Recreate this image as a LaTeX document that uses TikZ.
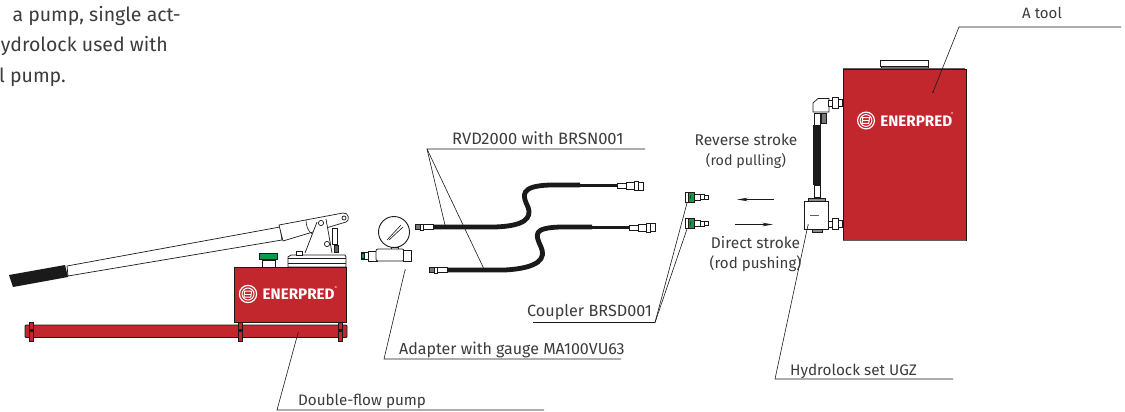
\documentclass[tikz,border=0pt]{standalone}
\usepackage{fontspec}
\setmainfont{Fira Sans}
\usetikzlibrary{arrows.meta}
\definecolor{ered}{HTML}{C1272D}
\definecolor{egreen}{HTML}{0A9A4A}
\definecolor{ink}{HTML}{1A1A1A}
\newcommand{\fs}[1]{\fontsize{#1}{20}\selectfont}
\newcommand{\logo}[3]{%
 \begin{scope}[shift={(#1,#2)},scale=#3]
  \draw[white,line width=1.2pt] (0,0) circle (8.6);
  \draw[white,line width=1pt] (0,0) circle (6);
  \draw[white,line width=1pt] (-3.4,-3) -- (3.6,-3) -- (2.8,3) -- (-4,3) -- cycle;
  \draw[white,line width=.8pt] (-3,0) -- (3,0);
  \node[white,font=\bfseries\fs{15.2},anchor=west,inner sep=0] at (14.5,.3) {ENERPRED};
  \node[white,font=\fs{4},inner sep=0] at (88,-6.5) {®};
 \end{scope}}
\tikzset{
 lbl/.style={text=ink!85,inner sep=0,anchor=base west},
 leader/.style={draw=ink,line width=.6pt},
 part/.style={draw=ink,line width=.7pt,fill=white},
 redp/.style={draw=ink,line width=.8pt,fill=ered},
 hose/.style={draw=ink,line cap=butt},
 gpart/.style={draw=ink,line width=.5pt,fill=egreen},
 dot/.style={fill=ink,circle,inner sep=0,minimum size=2.5pt},
 strokearrow/.style={draw=ink,line width=.6pt,-{Stealth[length=11pt,width=3.5pt]}}
}
\newcommand{\fitR}[2]{% right-facing hose fitting at (#1,#2)
 \begin{scope}[shift={(#1,#2)}]
  \draw[part] (0,-2.5) rectangle (9,2.5);
  \draw[part] (9,-3.5) rectangle (17,3.5);
  \draw[part,line width=.6pt] (17,-4.5) rectangle (21,4.5);
  \draw[part,line width=.6pt] (21,-4) rectangle (26,4);
 \end{scope}}
\newcommand{\fitL}[2]{% left-facing plug end at (#1,#2)
 \begin{scope}[shift={(#1,#2)}]
  \draw[part] (-10,-2.5) rectangle (0,2.5);
  \draw[part] (-13,-3) rectangle (-10,3);
  \draw[part,fill=ink!60] (-18,-2.2) rectangle (-13,2.2);
 \end{scope}}
\newcommand{\coupler}[2]{%
 \begin{scope}[shift={(#1,#2)}]
  \draw[part] (-5.5,-5) rectangle (-3,5);
  \draw[gpart] (-3,-5) rectangle (3.5,5);
  \draw[ink,line width=.5pt] (-1,2) -- (0,-2);
  \draw[part] (3.5,-3) rectangle (9,3);
  \draw[part] (9,-2.5) rectangle (13,2.5);
  \draw[part] (13,-2) rectangle (17.5,2);
 \end{scope}}
\begin{document}
\begin{tikzpicture}[x=1pt,y=-1pt]
\useasboundingbox (0,0) rectangle (1125,412);
\fill[white] (0,0) rectangle (1125,412);

% top-left paragraph: the part the reference shows
\node[lbl,font=\fs{19.5},anchor=base east] (p1) at (181,22) {a pump, single act-};
\node[lbl,font=\fs{19.5},anchor=base east] (p2) at (168,52) {ydrolock used with};
\node[lbl,font=\fs{19.5},anchor=base east] (p3) at (66,83) {l pump.};

% pump: handle
\draw[part] (67,266) -- (280,227) -- (282,240) -- (68,276) -- cycle;
\fill[ink] (9,275) -- (65,265) -- (68,277) -- (13,287) -- cycle;
% pump: lever sleeve
\draw[part] (279,225) -- (343,213) .. controls (349,212) and (350,221) .. (346,222) -- (283,241) -- cycle;
\draw[ink,line width=.6pt] (306,220) .. controls (306,226) and (308,231) .. (312,234);
% pump: lever yoke
\fill[white] (317,222) -- (326,220) -- (332,253) -- (305,253) -- cycle;
\draw[ink,line width=.7pt] (305,253) -- (317,222);
\draw[ink,line width=.7pt] (326,219) -- (332,253);
\draw[part] (321,223) circle (2.6);
\draw[part] (344,218) circle (2);
\draw[part] (327,244) circle (2.6);
\draw[part] (332,228) rectangle (337,244);
\draw[part,fill=ink!70] (334,245) rectangle (338,252);
% pump: cap + filler
\draw[part] (288,267) -- (288,257) -- (291,255) -- (345,255) -- (346,257) -- (346,267) -- cycle;
\draw[ink,line width=.5pt] (288,258) -- (346,258);
\draw[ink,line width=.5pt] (288,263) -- (346,263);
\draw[part] (296,251) rectangle (302,255);
\draw[part] (262,260) rectangle (275,267);
\draw[gpart] (259,253) rectangle (277,259.5);
% pump: tank + base
\draw[redp] (234.5,267) rectangle (346,322);
\draw[redp,rounded corners=1pt] (25,325) rectangle (347,337.5);
\foreach \bx in {31.5,240.5,340.5}{
 \draw[redp,line width=.6pt] (\bx-2,322) rectangle (\bx+2,341);
 \fill[ink] (\bx-2,329) rectangle (\bx+2,332);
}
\logo{248}{294}{1}

% gauge
\draw[part,line width=.9pt] (394,232) circle (15.5);
\draw[ink,line width=.6pt] (387,240) -- (401,225);
\draw[ink,line width=.6pt] (389,240) -- (403,227);
\draw[part] (391,247) rectangle (398,250);
\draw[part] (361,252) rectangle (368,259);
\draw[part,line width=.5pt] (368,251) rectangle (377,261.5);
\draw[part,rounded corners=2pt] (376,249) rectangle (404,261);
\draw[part] (403,250) rectangle (411,261);
\draw[gpart] (361,253) rectangle (364,258);

% hoses
\draw[hose,line width=4.8pt] (433,227) -- (495,227) .. controls (525,226) and (532,218) .. (528,207) .. controls (522,195) and (520,186) .. (550,185) -- (580,185);
\draw[hose,line width=3pt] (580,185) -- (617,185);
\fitL{433}{227}
\fitR{617}{186}
\draw[hose,line width=4.8pt] (447,270) -- (505,270) .. controls (540,268) and (546,258) .. (541,247) .. controls (535,234) and (533,228) .. (560,227) -- (592,227);
\draw[hose,line width=3pt] (592,227) -- (629,227);
\fitL{447}{270}
\fitR{629}{227.5}

% couplers
\coupler{691}{197}
\coupler{691}{223.5}

% stroke arrows
\draw[strokearrow] (774,199.5) -- (737,199.5);
\draw[strokearrow] (735,224.5) -- (773,224.5);

% tool
\draw[part] (880,60.5) rectangle (928,66.5);
\draw[part,fill=ink!60] (881,66.5) rectangle (928,68.5);
\draw[ink!70,line width=1pt] (843,69) -- (965,69);
\draw[redp,line width=1pt] (843,70) rectangle (966,240);
\draw[ink!70,line width=1pt] (843,240.6) -- (966,240.6);
\logo{866}{120.5}{.98}

% tubing tool - hydrolock
\draw[part] (814,113) rectangle (820,125);
\fill[ink] (813.3,125) rectangle (820.7,185);
\draw[part] (814,185) rectangle (820,197);
\draw[part] (813,112) -- (813,103) -- (818,98.5) -- (829,98.5) -- (829,112) -- cycle;
\draw[part,fill=ink!60] (821,113) rectangle (826,123);
\draw[part] (828.5,100) rectangle (832.5,106);
\draw[part] (832.5,97) rectangle (838,108);
\draw[part] (838,99.5) rectangle (842,106);
\draw[part] (828.5,221) rectangle (832.5,227);
\draw[part] (832.5,218.5) rectangle (838,229.5);
\draw[part] (838,220.5) rectangle (842,227.5);
\draw[part,fill=ink!50] (808,198.5) rectangle (825,201);
\draw[part,fill=ink!50] (812,229) rectangle (822,232);
\draw[part] (804,201) rectangle (828.5,229);
\draw[ink!70,line width=1pt] (810,215) -- (819,215);

% labels and leaders
\node[lbl,font=\fs{15}] (tTool) at (1022,19) {A tool};
\coordinate (tEnd) at (1121,27);
\coordinate (tKnee) at (959,27);
\node[dot,minimum size=2pt] (tAnchor) at (933,92) {};
\draw[leader] (tEnd) -- (tKnee) -- (tAnchor);

\node[lbl,font=\fs{16.5}] (tRvd) at (452,144) {RVD2000 with BRSN001};
\coordinate (rEnd) at (645,149);
\coordinate (rKnee) at (427,149);
\coordinate (rA) at (445,225);
\coordinate (rB) at (483.5,268);
\draw[leader] (rEnd) -- (rKnee) -- (rA);
\draw[leader] (rKnee) -- (rB);

\node[lbl,font=\fs{16.2}] (tCoup) at (527,316) {Coupler BRSD001};
\coordinate (cEnd) at (533,322.5);
\coordinate (cKnee) at (655,322.5);
\coordinate (cA) at (687,203);
\coordinate (cB) at (687,229);
\draw[leader] (cEnd) -- (cKnee) -- (cA);
\draw[leader] (cKnee) -- (cB);

\node[lbl,font=\fs{16}] (tAd) at (399,354) {Adapter with gauge MA100VU63};
\coordinate (aEnd) at (621,359);
\coordinate (aKnee) at (384,359);
\node[dot,minimum size=1.5pt] (aA) at (405,270) {};
\draw[leader] (aEnd) -- (aKnee) -- (aA);

\node[lbl,font=\fs{15.2}] (tPump) at (298,405) {Double-flow pump};
\coordinate (pEnd) at (544,410);
\coordinate (pKnee) at (277,410);
\node[dot,minimum size=1.5pt] (pA) at (298,333) {};
\draw[leader] (pEnd) -- (pKnee) -- (pA);

\node[lbl,font=\fs{15.3}] (tHyd) at (790,375) {Hydrolock set UGZ};
\coordinate (hEnd) at (953,379);
\coordinate (hKnee) at (775,379);
\node[dot,minimum size=1.5pt] (hA) at (808,225) {};
\draw[leader] (hEnd) -- (hKnee) -- (hA);

\node[text=ink!85,inner sep=0,align=center,font=\fs{15.5}] (tRev) at (746,151) {Reverse stroke\\{\fs{14.3}(rod pulling)}};
\node[text=ink!85,inner sep=0,align=center,font=\fs{15.5}] (tDir) at (755.5,254) {Direct stroke\\{\fs{15.1}(rod pushing)}};
\end{tikzpicture}
\end{document}
